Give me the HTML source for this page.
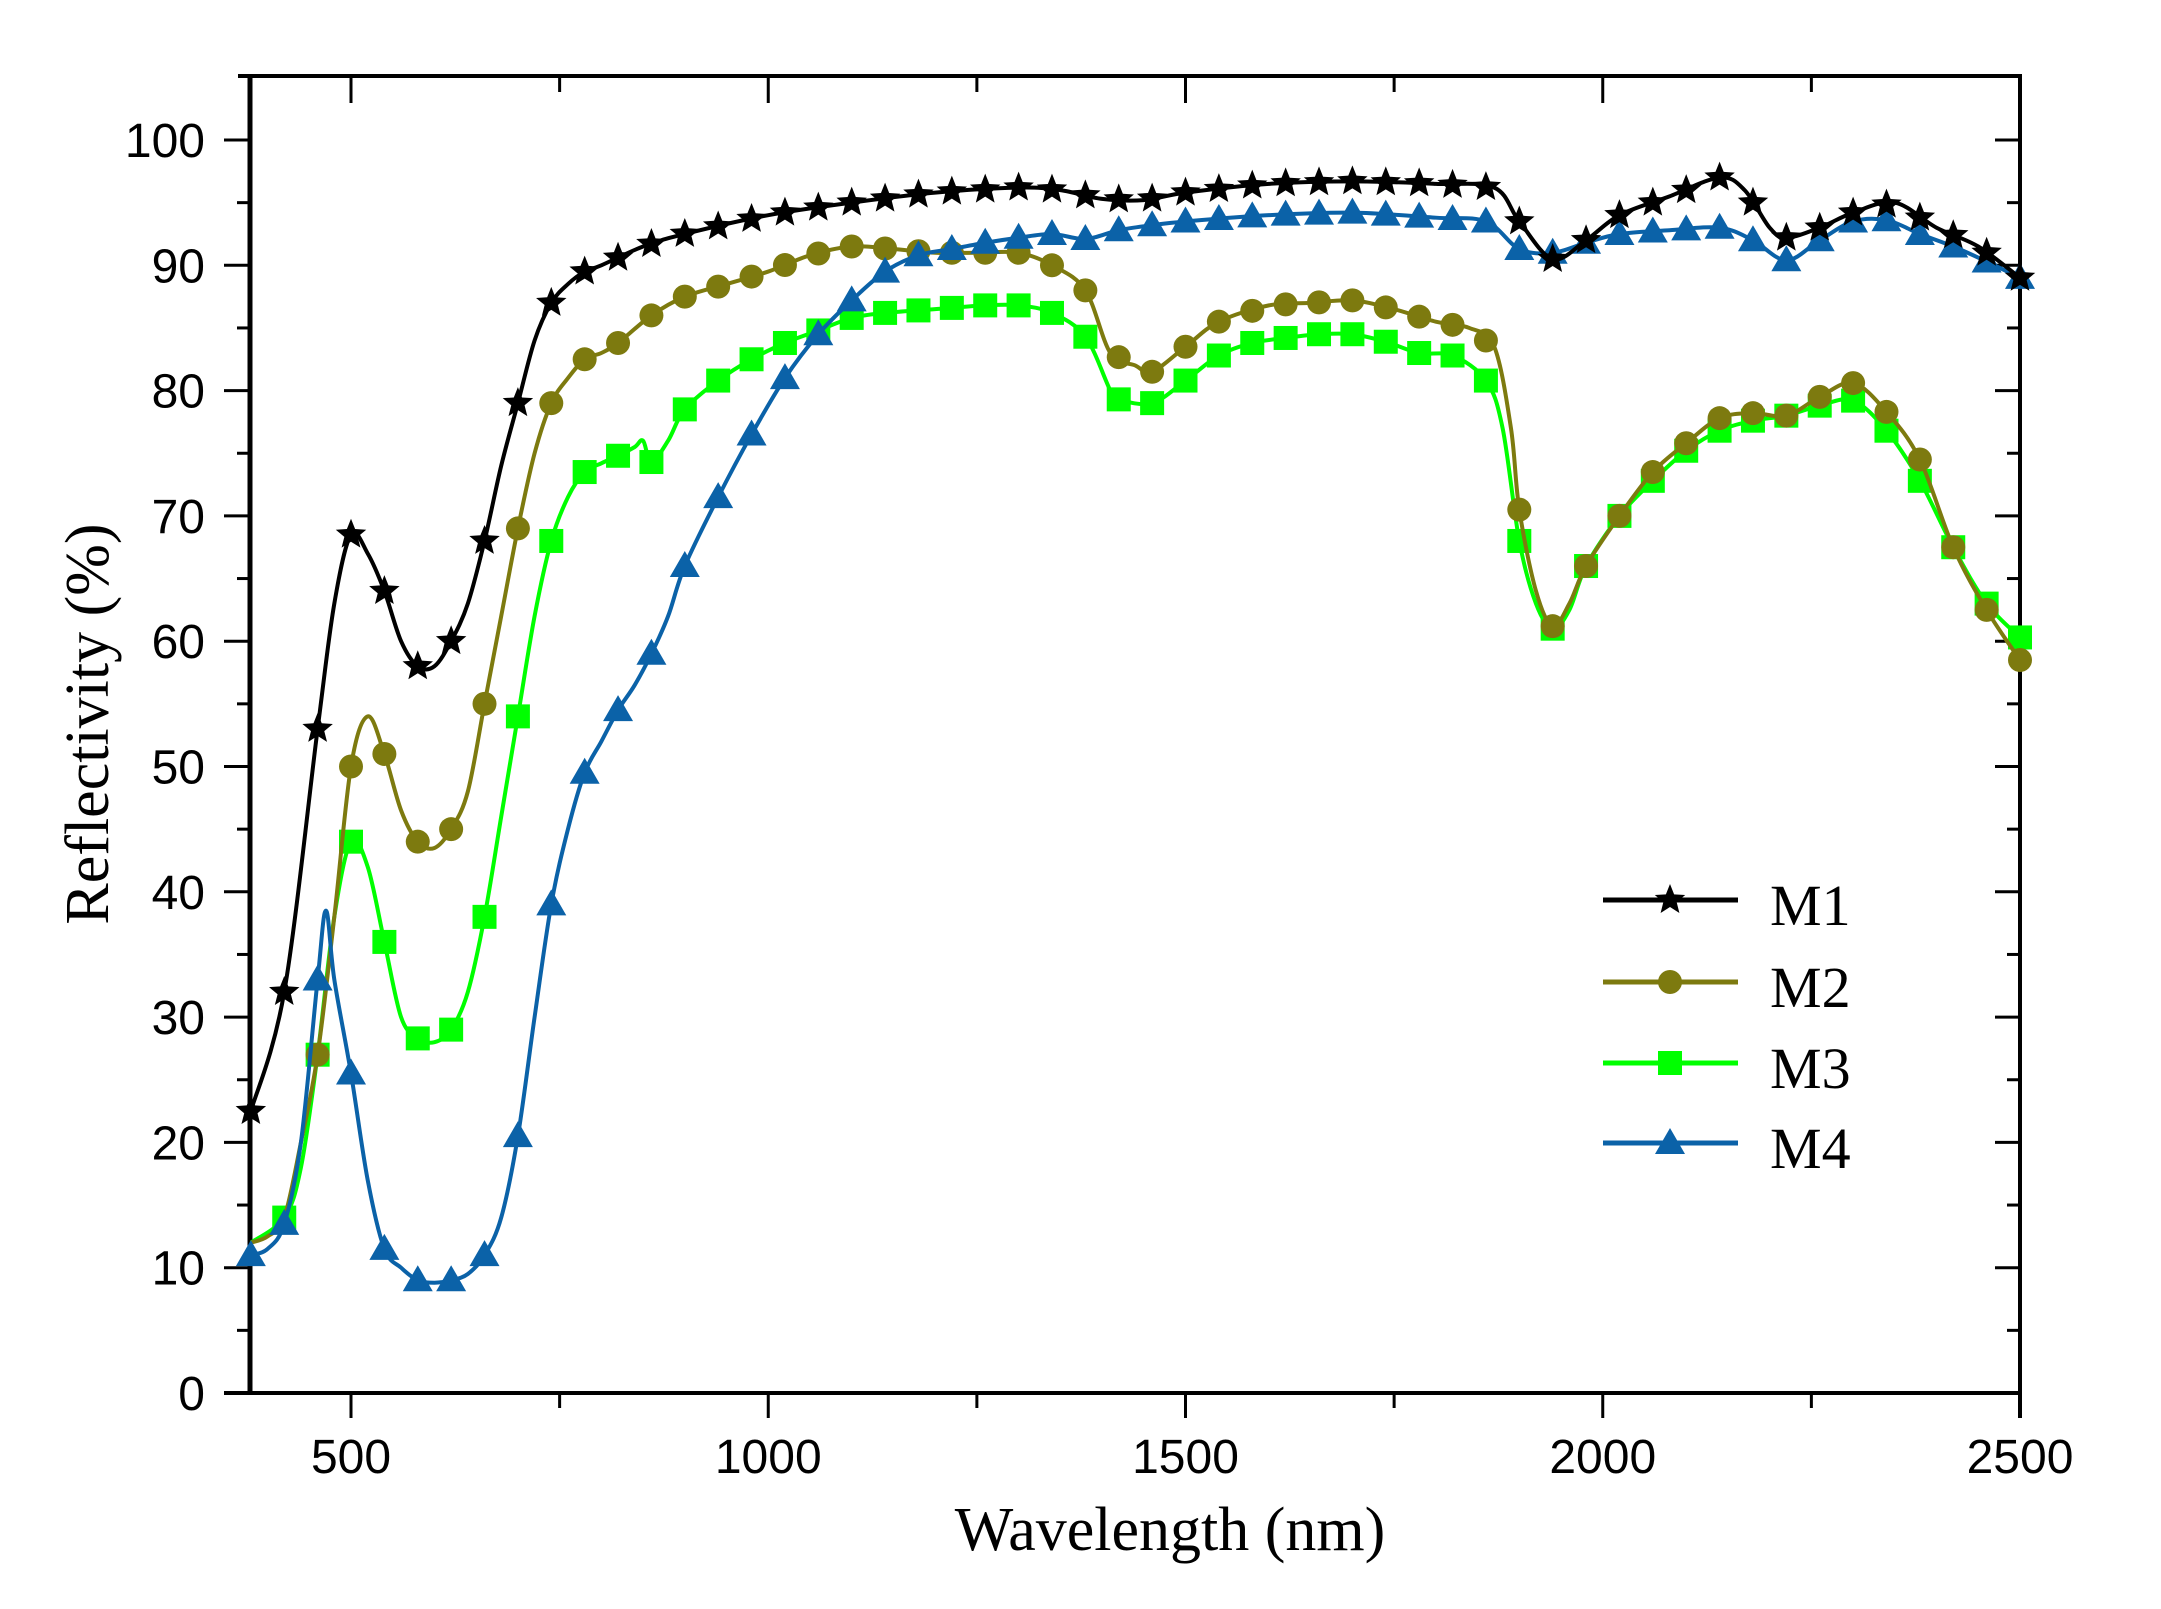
<!DOCTYPE html>
<html><head><meta charset="utf-8"><style>
html,body{margin:0;padding:0;background:#fff;}
svg{display:block;}
</style></head><body>
<svg id="c" width="2161" height="1609" xmlns="http://www.w3.org/2000/svg">
<rect width="2161" height="1609" fill="#fff"/>
<g id="axes"></g>
<g id="series"></g>
<g id="legend"></g>
</svg>
<script>
const NS="http://www.w3.org/2000/svg";
const X=w=>351+(w-500)*0.8345;
const Y=v=>1393-v*12.53;
function el(tag,attrs,parent,text){const e=document.createElementNS(NS,tag);for(const k in attrs)e.setAttribute(k,attrs[k]);if(text!==undefined)e.textContent=text;parent.appendChild(e);return e;}
const ax=document.getElementById('axes');
el('line',{x1:224,y1:1393,x2:2020,y2:1393,stroke:'#000','stroke-width':4},ax);
el('line',{x1:238,y1:76,x2:2020,y2:76,stroke:'#000','stroke-width':4},ax);
el('line',{x1:250,y1:74,x2:250,y2:1395,stroke:'#000','stroke-width':5},ax);
el('line',{x1:2020,y1:74,x2:2020,y2:1418,stroke:'#000','stroke-width':4},ax);
for(let w=500;w<=2500;w+=250){const x=X(w);const maj=w%500==0;
 el('line',{x1:x,y1:1393,x2:x,y2:maj?1418:1408,stroke:'#000','stroke-width':3},ax);
 el('line',{x1:x,y1:76,x2:x,y2:maj?103:92,stroke:'#000','stroke-width':3},ax);
 if(maj) el('text',{x:x,y:1473,'font-family':'Liberation Sans, sans-serif','font-size':48,'text-anchor':'middle'},ax,String(w));
}
for(let v=0;v<=100;v+=5){const y=Y(v);const maj=v%10==0;
 el('line',{x1:maj?224:237,y1:y,x2:250,y2:y,stroke:'#000','stroke-width':3},ax);
 el('line',{x1:maj?1995:2007,y1:y,x2:2020,y2:y,stroke:'#000','stroke-width':3},ax);
 if(maj) el('text',{x:205,y:y+17,'font-family':'Liberation Sans, sans-serif','font-size':48,'text-anchor':'end'},ax,String(v));
}
el('text',{x:1170,y:1550,'font-family':'Liberation Serif, serif','font-size':62,'text-anchor':'middle'},ax,'Wavelength (nm)');
el('text',{x:0,y:0,'font-family':'Liberation Serif, serif','font-size':62,'text-anchor':'middle',transform:'translate(108,724) rotate(-90)'},ax,'Reflectivity (%)');

function parse(s){return s.trim().split(/[\s,]+/).map(p=>p.split(':').map(Number));}
const data={
M1:parse("380:22.5 420:32 460:53 480:63 500:68.5 520:67 540:64 560:60 580:58 600:58 620:60 640:63 660:68 680:74 700:79 720:84 740:87 760:88.5 780:89.5 800:90 850:91.5 900:92.5 1000:94 1100:95 1200:95.8 1300:96.2 1350:96 1400:95.3 1450:95.2 1500:95.8 1600:96.5 1700:96.7 1800:96.5 1870:96.2 1900:93.5 1940:90.5 1980:92 2020:94 2080:95.5 2140:97 2170:96 2200:93 2220:92.2 2260:93 2300:94.2 2350:95 2400:93 2450:91.5 2500:89"),
M2:parse("380:12 400:12.5 420:14 440:20 460:27 480:38 500:50 520:54 540:51 560:46.5 580:44 600:43.5 620:45 640:48 660:55 680:62 700:69 720:75 740:79 760:81 780:82.5 800:83 820:83.8 860:86 900:87.5 950:88.5 1000:89.5 1050:90.8 1100:91.5 1150:91.3 1200:91 1250:91 1300:91 1340:90 1380:88 1410:83 1440:82 1460:81.5 1500:83.5 1540:85.5 1600:86.8 1650:87 1700:87.2 1750:86.5 1800:85.5 1840:85 1870:83.5 1890:77 1900:70.5 1920:64 1940:61.2 1960:63 1980:66 2020:70 2060:73.5 2100:75.8 2140:77.8 2180:78.2 2220:78 2260:79.5 2300:80.6 2340:78.3 2380:74.5 2420:67.5 2460:62.5 2500:58.5"),
M3:parse("380:12 420:14 440:18 460:27 480:38 500:44 520:42 540:36 560:30 580:28.3 600:28 620:29 640:32 660:38 680:46 700:54 720:62 740:68 760:71.5 780:73.5 800:74.2 820:74.8 840:75.5 850:76 860:74.3 880:76 900:78.5 940:80.8 980:82.5 1020:83.8 1060:84.8 1100:85.8 1140:86.2 1200:86.5 1260:86.8 1300:86.8 1340:86.2 1380:84.3 1410:80 1420:79.3 1460:79 1500:80.8 1540:82.8 1580:83.8 1620:84.2 1660:84.5 1700:84.5 1740:83.9 1780:83 1820:82.8 1860:80.8 1880:77 1900:68 1920:63 1940:61 1960:62.5 1980:66 2020:70 2060:72.8 2100:75.2 2140:76.8 2180:77.6 2220:78 2260:78.8 2300:79.2 2340:76.8 2380:72.8 2420:67.5 2460:63 2500:60.3"),
M4:parse("380:11 400:11.5 420:13.5 440:20 460:33 470:38.5 480:33 500:25.5 520:17 540:11.5 560:10 580:9 600:8.8 620:9 640:9.5 660:11 680:14 700:20.5 720:30 740:39 760:45 780:49.5 800:52 820:54.5 840:56.5 860:59 880:62 900:66 940:71.5 980:76.5 1020:81 1060:84.5 1100:87.2 1140:89.5 1180:90.8 1220:91.3 1260:91.8 1300:92.2 1340:92.5 1380:92.1 1420:92.8 1460:93.2 1500:93.5 1600:94 1700:94.2 1800:93.8 1860:93.5 1900:91.3 1940:91 1980:91.8 2020:92.5 2080:92.8 2140:93 2180:92 2220:90.4 2260:92 2300:93.5 2340:93.6 2380:92.5 2420:91.5 2460:90.3 2500:89")
};
const colors={M1:'#000000',M2:'#7d7a0f',M3:'#00ff00',M4:'#0b62a8'};
function interp(pts,w){for(let i=0;i<pts.length-1;i++){if(w>=pts[i][0]&&w<=pts[i+1][0]){const t=(w-pts[i][0])/(pts[i+1][0]-pts[i][0]);return pts[i][1]+t*(pts[i+1][1]-pts[i][1]);}}return pts[pts.length-1][1];}
function pathFor(pts){const P=pts.map(p=>[X(p[0]),Y(p[1])]);let d='M'+P[0][0]+','+P[0][1];
 for(let i=0;i<P.length-1;i++){const p0=P[Math.max(0,i-1)],p1=P[i],p2=P[i+1],p3=P[Math.min(P.length-1,i+2)];
  const c1=[p1[0]+(p2[0]-p0[0])/6,p1[1]+(p2[1]-p0[1])/6],c2=[p2[0]-(p3[0]-p1[0])/6,p2[1]-(p3[1]-p1[1])/6];
  d+=' C'+c1.join(',')+' '+c2.join(',')+' '+p2.join(',');}
 return d;}
function marker(type,x,y,col,g){
 if(type=='M1'){let s='';for(let i=0;i<10;i++){const r=i%2?7:16;const a=-Math.PI/2+i*Math.PI/5;s+=(x+r*Math.cos(a))+','+(y+r*Math.sin(a))+' ';}el('polygon',{points:s,fill:col},g);}
 else if(type=='M2') el('circle',{cx:x,cy:y,r:12,fill:col},g);
 else if(type=='M3') el('rect',{x:x-12,y:y-12,width:24,height:24,fill:col},g);
 else el('polygon',{points:`${x},${y-15} ${x-15},${y+11} ${x+15},${y+11}`,fill:col},g);
}
const sg=document.getElementById('series');
['M3','M2','M4','M1'].forEach(k=>{
 const g=el('g',{},sg);const pts=data[k];
 el('path',{d:pathFor(pts),fill:'none',stroke:colors[k],'stroke-width':4},g);
 const start=(k=='M2')?460:(k=='M3')?420:380;
 for(let w=start;w<=2500;w+=40){marker(k,X(w),Y(interp(pts,w)),colors[k],g);}
});
const lg=document.getElementById('legend');
[['M1',900],['M2',982],['M3',1063],['M4',1143]].forEach(([k,y])=>{
 el('line',{x1:1603,y1:y,x2:1738,y2:y,stroke:colors[k],'stroke-width':5},lg);
 marker(k,1670,y,colors[k],lg);
 el('text',{x:1770,y:y+25,'font-family':'Liberation Serif, serif','font-size':58},lg,k);
});
</script>
</body></html>
